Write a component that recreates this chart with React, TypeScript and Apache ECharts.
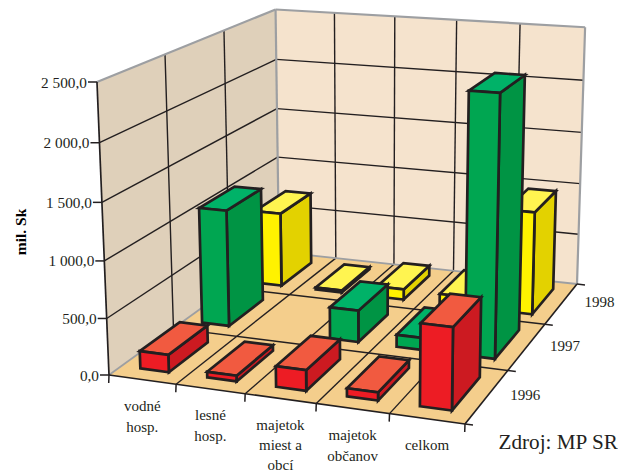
import React, { useEffect, useRef } from "react";
import * as echarts from "echarts";

const categories = ["vodné\nhosp.", "lesné\nhosp.", "majetok\nmiest a\nobcí", "majetok\nobčanov", "celkom"];
const years = ["1996", "1997", "1998"];
const values1996 = [155, 50, 180, 70, 700];
const values1997 = [1080, 0, 290, 110, 2320];
const values1998 = [720, 20, 100, 95, 970];
const yTicks = [0, 500, 1000, 1500, 2000, 2500];
const yTickLabels = ["0,0", "500,0", "1 000,0", "1 500,0", "2 000,0", "2 500,0"];
const source = "Zdroj: MP SR";
const yName = "mil. Sk";

type P = [number, number];
const W = 618, H = 472;
const YMAX = 2500;
// camera: floor corners and vertical vanishing point
const A: P = [109, 375], B: P = [465, 424], C: P = [577, 284], D: P = [279, 252];
const VP: P = [372, 6781];
const TOP_A_Y = 82;

function floorHomography() {
  const dx1 = B[0] - C[0], dy1 = B[1] - C[1];
  const dx2 = D[0] - C[0], dy2 = D[1] - C[1];
  const sx = A[0] - B[0] + C[0] - D[0], sy = A[1] - B[1] + C[1] - D[1];
  const den = dx1 * dy2 - dx2 * dy1;
  const g = (sx * dy2 - dx2 * sy) / den;
  const h = (dx1 * sy - sx * dy1) / den;
  return { a: B[0] - A[0] + g * B[0], b: D[0] - A[0] + h * D[0], c: A[0], d: B[1] - A[1] + g * B[1], e: D[1] - A[1] + h * D[1], f: A[1], g, h };
}
const Hm = floorHomography();
const K = -(A[1] - TOP_A_Y) / (VP[1] - TOP_A_Y);
function proj(u: number, v: number, t: number): P {
  const x = Hm.a * u + Hm.b * v + Hm.c + t * K * VP[0];
  const y = Hm.d * u + Hm.e * v + Hm.f + t * K * VP[1];
  const w = Hm.g * u + Hm.h * v + 1 + t * K;
  return [x / w, y / w];
}

const INK = "#231F20";
const GRAY = "#9D9FA2";
const poly = (pts: P[], fill: string, stroke: string | null, lw = 0) => ({
  type: "polygon",
  shape: { points: pts },
  style: { fill, stroke: stroke || "none", lineWidth: lw, lineJoin: "miter" },
});
const line = (a: P, b: P, stroke: string, lw: number) => ({
  type: "line",
  shape: { x1: a[0], y1: a[1], x2: b[0], y2: b[1] },
  style: { stroke, lineWidth: lw },
});
const label = (text: string, p: P, align: string, size: number, lineHeight = 22, verticalAlign = "middle") => ({
  type: "text",
  x: p[0],
  y: p[1],
  style: { text, fill: INK, font: `${size}px "Liberation Serif"`, align, verticalAlign, lineHeight },
});

const palette = [
  { front: "#ED1C24", side: "#CC1A21", top: "#F15A40" },
  { front: "#00A651", side: "#009444", top: "#00B268" },
  { front: "#FFF200", side: "#E3D200", top: "#FFF450" },
];
const BAR_U = 0.285, BAR_V = 0.185;

export default function App() {
  const ref = useRef<HTMLDivElement>(null);
  useEffect(() => {
    const chart = echarts.init(ref.current!, undefined, { renderer: "svg" });
    const toFrac = (api: any, cat: number, val: number): [number, number] => {
      const c = api.coord([cat, val]);
      return [c[0] / W, (H - c[1]) / H];
    };
    const frameRender = (_: any, api: any) => {
      const ch: any[] = [];
      const nc = categories.length, ny = years.length;
      ch.push(poly([proj(0, 0, 0), proj(0, 1, 0), proj(0, 1, 1), proj(0, 0, 1)], "#DFD0BA", null));
      ch.push(poly([proj(0, 1, 0), proj(1, 1, 0), proj(1, 1, 1), proj(0, 1, 1)], "#F5E3CD", null));
      ch.push(poly([proj(0, 0, 0), proj(1, 0, 0), proj(1, 1, 0), proj(0, 1, 0)], "#F4CE8C", null));
      yTicks.forEach((t) => {
        const f = toFrac(api, 0, t)[1];
        if (t > 0 && t < YMAX) {
          ch.push(line(proj(0, 0, f), proj(0, 1, f), INK, 1.4));
          ch.push(line(proj(0, 1, f), proj(1, 1, f), INK, 1.4));
        }
      });
      for (let j = 1; j < ny; j++) {
        const v = j / ny;
        ch.push(line(proj(0, v, 0), proj(0, v, 1), INK, 1.4));
        ch.push(line(proj(0, v, 0), proj(1, v, 0), INK, 1.4));
      }
      for (let i = 1; i < nc; i++) {
        const u = i / nc;
        ch.push(line(proj(u, 1, 0), proj(u, 1, 1), INK, 1.4));
        ch.push(line(proj(u, 0, 0), proj(u, 1, 0), INK, 1.4));
      }
      ch.push(line(proj(0, 0, 0), proj(0, 1, 0), GRAY, 1.8));
      ch.push(line(proj(0, 1, 0), proj(1, 1, 0), GRAY, 1.8));
      ch.push(line(proj(0, 1, 0), proj(0, 1, 1), GRAY, 2.2));
      ch.push(line(proj(0, 0, 1), proj(0, 1, 1), GRAY, 2.2));
      ch.push(line(proj(0, 1, 1), proj(1, 1, 1), GRAY, 2.2));
      ch.push(line(proj(1, 1, 0), proj(1, 1, 1), GRAY, 2.2));
      return { type: "group", children: ch };
    };
    const axisRender = (_: any, api: any) => {
      const ch: any[] = [];
      const nc = categories.length, ny = years.length;
      ch.push(line(proj(0, 0, 0), proj(0, 0, 1), INK, 1.7));
      ch.push(line(proj(0, 0, 0), proj(1, 0, 0), INK, 1.7));
      ch.push(line(proj(1, 0, 0), proj(1, 1, 0), INK, 1.7));
      yTicks.forEach((t, i) => {
        const f = toFrac(api, 0, t)[1];
        const p = proj(0, 0, f);
        ch.push(line(p, [p[0] - 9, p[1]], INK, 1.5));
        ch.push(label(yTickLabels[i], [p[0] - 10, p[1]], "right", 15.3));
      });
      for (let i = 0; i <= nc; i++) {
        const p = proj(i / nc, 0, 0);
        ch.push(line(p, [p[0] - 0.3, p[1] + 8], INK, 1.5));
        if (i < nc) {
          const lc = proj((i + 0.5) / nc, 0, 0);
          const lh = categories[i].split("\n").length > 2 ? 20 : 21;
          ch.push(label(categories[i], [lc[0], lc[1] + 16], "center", 15, lh, "top"));
        }
      }
      for (let j = 0; j <= ny; j++) {
        const p = proj(1, j / ny, 0);
        ch.push(line(p, [p[0] + 8, p[1] + 1], INK, 1.5));
        if (j < ny) {
          const lp = proj(1, (j + 0.5) / ny, 0);
          ch.push(label(years[j], [lp[0] + 38, lp[1] - 1], "center", 15));
        }
      }
      return { type: "group", children: ch };
    };
    const barRender = (j: number) => (_: any, api: any) => {
      const cat = api.value(0), val = api.value(1);
      if (!val) return { type: "group", children: [] };
      const [cx, t] = toFrac(api, cat, val);
      const cellU = 1 / categories.length, cellV = 1 / years.length;
      const u0 = cx - cellU * (0.5 - BAR_U), u1 = cx + cellU * (0.5 - BAR_U);
      const v0 = (j + BAR_V) * cellV, v1 = (j + 1 - BAR_V) * cellV;
      const pal = palette[j];
      return {
        type: "group",
        children: [
          poly([proj(u1, v0, 0), proj(u1, v1, 0), proj(u1, v1, t), proj(u1, v0, t)], pal.side, INK, 2.7),
          poly([proj(u0, v0, t), proj(u1, v0, t), proj(u1, v1, t), proj(u0, v1, t)], pal.top, INK, 2.7),
          poly([proj(u0, v0, 0), proj(u1, v0, 0), proj(u1, v0, t), proj(u0, v0, t)], pal.front, INK, 2.7),
        ],
      };
    };
    const series: any[] = [
      { type: "custom", silent: true, z: 1, renderItem: frameRender, data: [[0, 0]], clip: false },
      { type: "custom", silent: true, z: 2, renderItem: axisRender, data: [[0, 0]], clip: false },
    ];
    [values1998, values1997, values1996].forEach((vals, k) => {
      const j = 2 - k;
      series.push({
        type: "custom",
        name: years[j],
        silent: true,
        z: 3 + k,
        renderItem: barRender(j),
        data: vals.map((v, i) => [i, v]),
        clip: false,
      });
    });
    chart.setOption({
      animation: false,
      grid: { left: 0, right: 0, top: 0, bottom: 0 },
      xAxis: { type: "category", data: categories, show: false },
      yAxis: { type: "value", min: 0, max: YMAX, show: false },
      series,
      graphic: [
        { type: "text", x: 20, y: 232, rotation: Math.PI / 2, style: { text: yName, fill: "#000", font: 'bold 15.5px "Liberation Serif"', align: "center", verticalAlign: "middle" } },
        { type: "text", x: 498.5, y: 442, style: { text: source, fill: INK, font: '21.2px "Liberation Serif"', align: "left", verticalAlign: "middle" } },
      ],
    });
    return () => chart.dispose();
  }, []);
  return <div ref={ref} style={{ width: W, height: H, position: "absolute", left: 0, top: 0 }} />;
}
